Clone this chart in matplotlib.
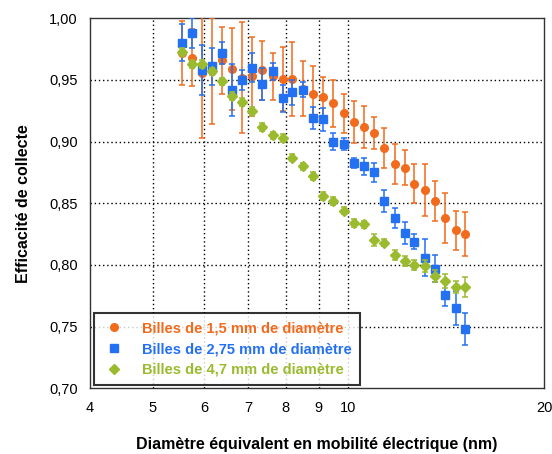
import matplotlib.pyplot as plt
from matplotlib.lines import Line2D
from matplotlib.ticker import FixedLocator, NullLocator, FixedFormatter

plt.rcParams['font.family'] = ['Liberation Sans', 'DejaVu Sans']

# Diamètre équivalent (nm)
diam = [5.54, 5.74, 5.94, 6.16, 6.38, 6.61, 6.85, 7.10, 7.37, 7.64,
        7.92, 8.20, 8.52, 8.83, 9.15, 9.47, 9.86, 10.21, 10.58, 10.96,
        11.36, 11.79, 12.21, 12.60, 13.12, 13.59, 14.10, 14.62, 15.12]

# Billes de 1,5 mm
eff_15 = [0.972, 0.968, 0.956, 0.957, 0.966, 0.959, 0.952, 0.953, 0.958, 0.953,
          0.951, 0.951, 0.943, 0.939, 0.936, 0.931, 0.923, 0.916, 0.912, 0.907,
          0.895, 0.882, 0.879, 0.866, 0.861, 0.852, 0.838, 0.828, 0.825]
err_15 = [0.026, 0.023, 0.053, 0.043, 0.027, 0.033, 0.045, 0.032, 0.024, 0.019,
          0.026, 0.030, 0.022, 0.022, 0.016, 0.019, 0.016, 0.017, 0.017, 0.013,
          0.016, 0.016, 0.014, 0.016, 0.021, 0.016, 0.020, 0.016, 0.018]

# Billes de 2,75 mm
eff_275 = [0.980, 0.988, 0.958, 0.961, 0.972, 0.942, 0.950, 0.960, 0.947, 0.957,
           0.935, 0.940, 0.942, 0.919, 0.918, 0.900, 0.898, 0.883, 0.880, 0.875,
           0.852, 0.838, 0.826, 0.819, 0.806, 0.797, 0.776, 0.765, 0.748]
err_275 = [0.015, 0.012, 0.020, 0.015, 0.009, 0.021, 0.008, 0.012, 0.013, 0.007,
           0.011, 0.010, 0.006, 0.009, 0.009, 0.007, 0.005, 0.004, 0.007, 0.008,
           0.009, 0.008, 0.009, 0.006, 0.015, 0.011, 0.009, 0.014, 0.013]

# Billes de 4,7 mm
eff_47 = [0.973, 0.963, 0.963, 0.957, 0.949, 0.937, 0.932, 0.925, 0.912, 0.905,
          0.903, 0.887, 0.880, 0.872, 0.856, 0.852, 0.844, 0.834, 0.833, 0.820,
          0.818, 0.808, 0.803, 0.800, 0.799, 0.791, 0.787, 0.782, 0.782]
err_47 = [0.003, 0.003, 0.003, 0.003, 0.003, 0.003, 0.003, 0.003, 0.003, 0.003,
          0.003, 0.003, 0.003, 0.003, 0.003, 0.003, 0.003, 0.003, 0.003, 0.005,
          0.003, 0.004, 0.004, 0.004, 0.005, 0.005, 0.006, 0.005, 0.008]

labels = ['Billes de 1,5 mm de diamètre',
          'Billes de 2,75 mm de diamètre',
          'Billes de 4,7 mm de diamètre']

x_ticks = [4, 5, 6, 7, 8, 9, 10, 20]
y_ticks = [0.70, 0.75, 0.80, 0.85, 0.90, 0.95, 1.00]

c_orange = '#F26B1D'
c_blue = '#2470F2'
c_green = '#9BBB2F'

fig = plt.figure(figsize=(5.52, 4.54), dpi=100)
ax = fig.add_axes([90 / 552, 1 - 388.3 / 454, 454 / 552, 370 / 454])

series = [(eff_15, err_15, 'o', c_orange),
          (eff_275, err_275, 's', c_blue),
          (eff_47, err_47, 'D', c_green)]
for i, (y, e, m, c) in enumerate(series):
    ax.errorbar(diam, y, yerr=e, fmt=m, color=c, ms=5.5,
                elinewidth=1.1, capsize=2.5, capthick=1.1, zorder=3 + i)

ax.set_xscale('log')
ax.set_xlim(4, 20)
ax.set_ylim(0.70, 1.00)

ax.xaxis.set_major_locator(FixedLocator(x_ticks))
ax.xaxis.set_major_formatter(FixedFormatter([str(t) for t in x_ticks]))
ax.xaxis.set_minor_locator(NullLocator())
ax.yaxis.set_major_locator(FixedLocator(y_ticks))
ax.yaxis.set_major_formatter(FixedFormatter([f'{t:.2f}'.replace('.', ',') for t in y_ticks]))

ax.tick_params(axis='both', length=0, labelsize=10.5)
ax.tick_params(axis='x', pad=9)
ax.tick_params(axis='y', pad=9)

# dotted grid, only on the inner ticks
for t in x_ticks[1:-1]:
    ax.axvline(t, color='black', lw=1, ls=(0, (1, 2)), zorder=1)
for t in y_ticks[1:-1]:
    ax.axhline(t, color='black', lw=1, ls=(0, (1, 2)), zorder=1)

for s in ax.spines.values():
    s.set_color('#333333')
    s.set_linewidth(1)

ax.set_xlabel('Diamètre équivalent en mobilité électrique (nm)',
              fontsize=11.5, fontweight='bold', labelpad=16)
ax.set_ylabel('Efficacité de collecte', fontsize=11.5, fontweight='bold', labelpad=13)

# legend with plain markers, no error bars
handles = [Line2D([], [], ls='none', marker=m, color=c, ms=5.5)
           for (_, _, m, c) in series]
leg = ax.legend(handles, labels, loc='lower left', bbox_to_anchor=(0.0, -0.002),
                frameon=True, fancybox=False, edgecolor='black', fontsize=10.5,
                handletextpad=1.1, borderpad=0.55, labelspacing=0.45,
                handlelength=1.6, borderaxespad=0.3)
leg.get_frame().set_linewidth(1.5)
leg.set_zorder(10)
for txt, (_, _, _, c) in zip(leg.get_texts(), series):
    txt.set_color(c)
    txt.set_fontweight('bold')

fig.savefig('out.png', dpi=100)
